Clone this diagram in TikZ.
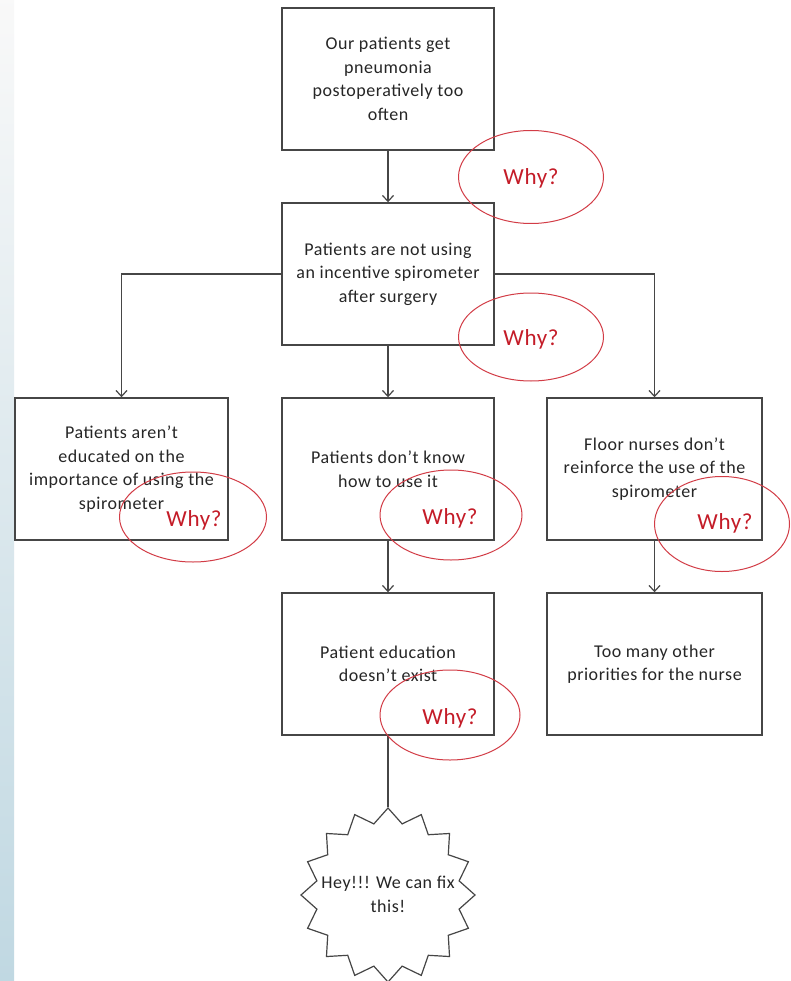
\documentclass[tikz,border=0pt]{standalone}
\usepackage{fontspec}
\setmainfont{Carlito}[LetterSpace=3]
\usetikzlibrary{arrows.meta,shapes.geometric}
\definecolor{lineg}{RGB}{70,70,70}
\definecolor{whyred}{RGB}{196,28,40}
\definecolor{ellred}{RGB}{210,60,70}
\definecolor{stripblue}{RGB}{192,216,226}
\tikzset{
  box/.style={draw=lineg, line width=1.4pt, fill=white, minimum width=212pt, minimum height=142pt,
    inner sep=2pt, align=center, font=\fontsize{18}{23.5}\selectfont, text=black!85},
  conn/.style={draw=lineg, line width=1.4pt},
  arr/.style={conn, -{Straight Barb[length=6pt,width=11pt,line width=1.2pt]}},
  whyell/.style={draw=ellred, line width=1pt, ellipse, inner sep=0pt},
  whytext/.style={text=whyred, font=\fontsize{23}{26}\selectfont, inner sep=0pt},
  burst/.style={draw=lineg, line width=1.2pt, fill=white, star, star points=16, star point ratio=1.2,
    minimum size=174pt, inner sep=0pt, font=\fontsize{18}{23.5}\selectfont, text=black!85}
}
\begin{document}
\begin{tikzpicture}[x=1pt,y=-1pt]
\useasboundingbox (0,0) rectangle (790,981);
\fill[white] (0,0) rectangle (790,981);
\shade[top color=white!95!gray, middle color=white!90!gray, bottom color=stripblue] (0,0) rectangle (14,981);

\node[box] (b1) at (388,79) {Our patients get\\pneumonia\\postoperatively too\\often};
\node[box] (b2) at (388,274) {Patients are not using\\an incentive spirometer\\after surgery};
\node[box, minimum width=213pt] (b3) at (121.5,469) {Patients aren’t\\educated on the\\importance of using the\\spirometer};
\node[box] (b4) at (388,469) {Patients don’t know\\how to use it};
\node[box, minimum width=215pt] (b5) at (654.5,469) {Floor nurses don’t\\reinforce the use of the\\spirometer};
\node[box] (b6) at (388,664) {Patient education\\doesn’t exist};
\node[box, minimum width=215pt] (b7) at (654.5,664) {Too many other\\priorities for the nurse};
\node[burst] (s) at (388,895) {\smash{\makebox[0pt]{\raisebox{-5pt}{\begin{tabular}{@{}c@{}}Hey!!! We can fix\\this!\end{tabular}}}}};

\draw[arr] (b1.south) -- (b2.north);
\draw[arr] (b2.west) -| (b3.north);
\draw[arr] (b2.east) -| (b5.north);
\draw[arr] (b2.south) -- (b4.north);
\draw[arr] (b4.south) -- (b6.north);
\draw[arr] (b5.south) -- (b7.north);
\draw[conn] (b6.south) -- (s.north);

\node[whyell, minimum width=145pt, minimum height=93pt] (e1) at (531,177) {};
\node[whytext] (w1) at (531,178) {Why?};
\node[whyell, minimum width=145pt, minimum height=88pt] (e2) at (531,337) {};
\node[whytext] (w2) at (531,339) {Why?};
\node[whyell, minimum width=147pt, minimum height=90pt] (e3) at (193,517) {};
\node[whytext] (w3) at (194,520) {Why?};
\node[whyell, minimum width=142pt, minimum height=90pt] (e4) at (451,515) {};
\node[whytext] (w4) at (450,518) {Why?};
\node[whyell, minimum width=135pt, minimum height=95pt] (e5) at (722,524) {};
\node[whytext] (w5) at (725,523) {Why?};
\node[whyell, minimum width=140pt, minimum height=90pt] (e6) at (450,715) {};
\node[whytext] (w6) at (450,718) {Why?};
\end{tikzpicture}
\end{document}
